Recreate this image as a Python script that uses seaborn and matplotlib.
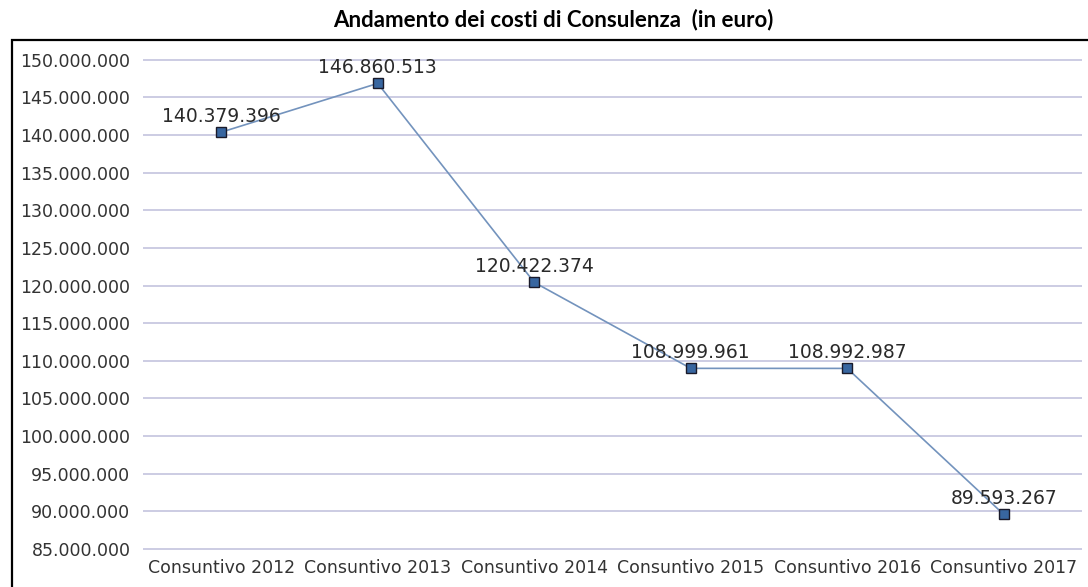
import matplotlib
matplotlib.use("Agg")
import matplotlib.pyplot as plt
import matplotlib.ticker as mticker
from matplotlib.patches import Rectangle
import seaborn as sns
import pandas as pd

categories = ["Consuntivo 2012", "Consuntivo 2013", "Consuntivo 2014",
              "Consuntivo 2015", "Consuntivo 2016", "Consuntivo 2017"]
values = [140379396, 146860513, 120422374, 108999961, 108992987, 89593267]
title = "Andamento dei costi di Consulenza  (in euro)"

df = pd.DataFrame({"cat": categories, "val": values})

sns.set_theme(style="white")
plt.rcParams["font.family"] = ["DejaVu Sans"]

fig = plt.figure(figsize=(10.88, 5.87), dpi=100)
ax = fig.add_axes([143 / 1088, 1 - 552 / 587, (1082 - 143) / 1088, (552 - 56) / 587])

def fmt(v, pos=None):
    return f"{v:,.0f}".replace(",", ".")

ax.set_ylim(84.6e6, 150.5e6)
ax.set_xlim(-0.5, 5.5)
ax.yaxis.set_major_locator(mticker.MultipleLocator(5e6))
ax.yaxis.set_major_formatter(mticker.FuncFormatter(fmt))
ax.grid(axis="y", color="#c8c8e0", linewidth=1.3)
ax.set_axisbelow(True)

sns.lineplot(data=df, x="cat", y="val", ax=ax, color="#7393bd", linewidth=1.2,
             marker="s", markersize=7.5, markerfacecolor="#3866a0",
             markeredgecolor="#1a1a2a", markeredgewidth=1.0, sort=False)

for i, v in enumerate(values):
    ax.annotate(fmt(v), (i, v), xytext=(0, 4.5), textcoords="offset points",
                ha="center", va="bottom", fontsize=13.5, color="#2a2a2a")

for s in ax.spines.values():
    s.set_visible(False)
ax.set_xlabel("")
ax.set_ylabel("")
ax.tick_params(axis="y", length=0, pad=9, labelsize=12.5, labelcolor="#333333")
ax.tick_params(axis="x", length=0, pad=5, labelsize=12.5, labelcolor="#333333")

fig.text(553 / 1088, 1 - 20 / 587, title, ha="center", va="center",
         fontsize=16, fontweight="bold", family=["Lato", "DejaVu Sans"], color="black")

fig.patches.append(Rectangle((12 / 1088, -0.1), 1.2, 1 - 40 / 587 + 0.1,
                             transform=fig.transFigure, fill=False,
                             edgecolor="black", linewidth=1.6, zorder=10))

fig.savefig("out.png", dpi=100)
